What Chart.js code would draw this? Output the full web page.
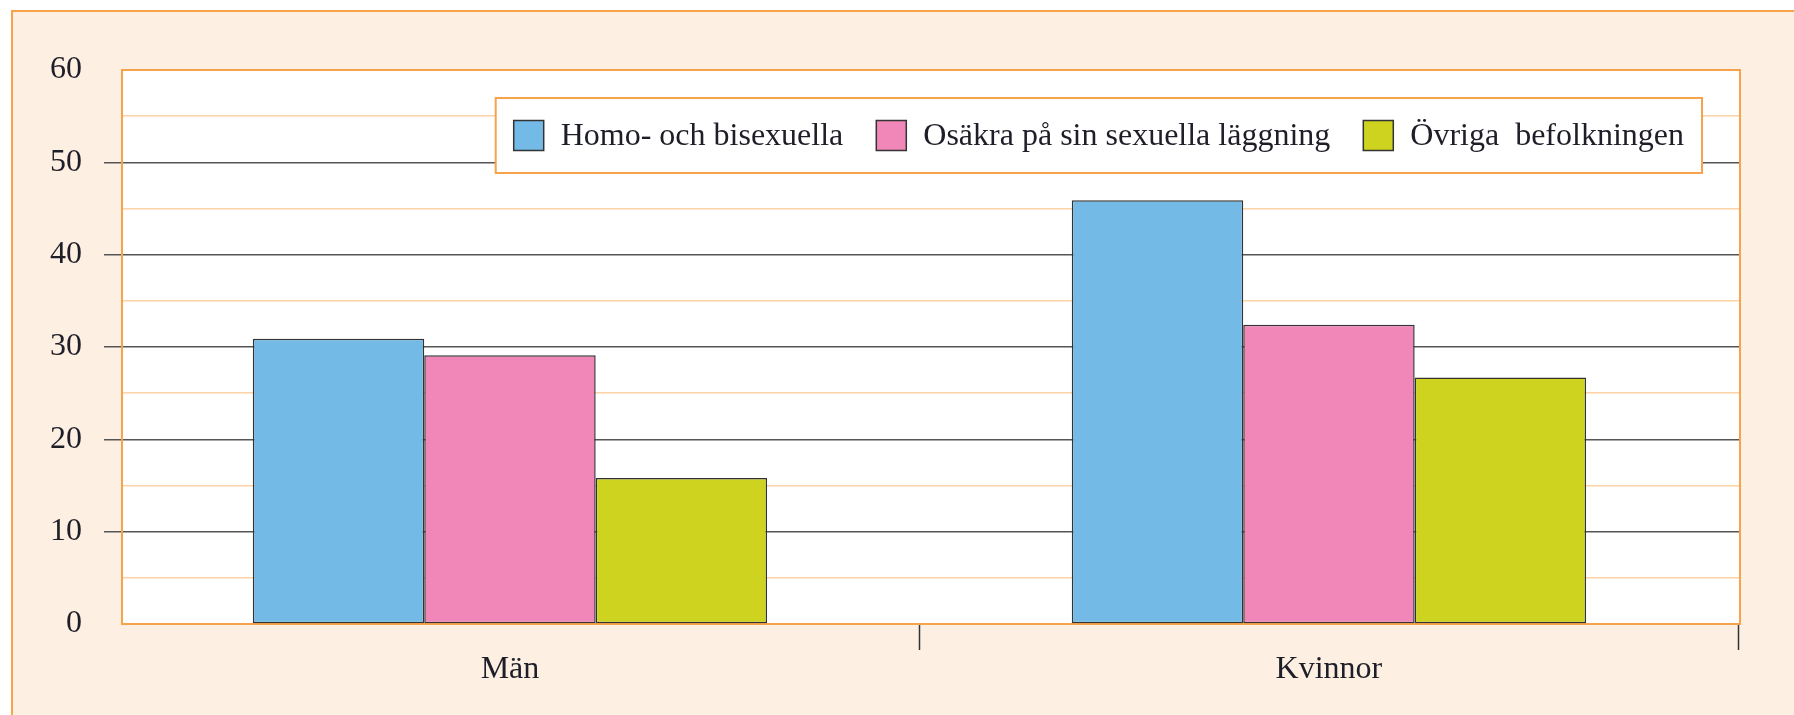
<!DOCTYPE html>
<html>
<head>
<meta charset="utf-8">
<script src="https://cdn.jsdelivr.net/npm/chart.js@4/dist/chart.umd.min.js"></script>
<style>
  html, body { margin: 0; padding: 0; background: #ffffff; }
  #frame { position: absolute; left: 11px; top: 10px; width: 1800px; height: 720px;
           background: #fdefe2; border-left: 2px solid #f7a34b; border-top: 2px solid #f7a34b; box-sizing: border-box; }
  #wrap { position: absolute; left: 0; top: 0; width: 1794px; height: 715px; }
</style>
</head>
<body>
<div id="frame"></div>
<div id="wrap"><canvas id="c" width="1794" height="715"></canvas></div>
<script>
const categories = ['Män', 'Kvinnor'];
const seriesLabels = ['Homo- och bisexuella', 'Osäkra på sin sexuella läggning', 'Övriga  befolkningen'];
const homoBi = [30.9, 45.9];
const osakra = [29.1, 32.4];
const ovriga = [15.8, 26.7];
const seriesColors = ['#73bbe6', '#f087b8', '#cdd31e'];

const ORANGE = '#f7a34b';
const FONT = "'Liberation Serif', 'DejaVu Serif', serif";
// category axis window (in category units): starts slightly right of -0.5
const X_START = -0.4737;
const X_RANGE = 1.9756;

const plotPanel = {
  id: 'plotPanel',
  beforeDraw(chart) {
    const a = chart.chartArea, ctx = chart.ctx;
    ctx.save();
    ctx.fillStyle = '#ffffff';
    ctx.fillRect(a.left, a.top, a.right - a.left, a.bottom - a.top);
    ctx.restore();
  },
  beforeDatasetsDraw(chart) {
    const a = chart.chartArea, ctx = chart.ctx;
    ctx.save();
    ctx.strokeStyle = ORANGE;
    ctx.lineWidth = 2;
    ctx.strokeRect(a.left, a.top, a.right - a.left, a.bottom - a.top);
    ctx.restore();
  },
  afterDatasetsDraw(chart) {
    const a = chart.chartArea, ctx = chart.ctx;
    const ds = chart.data.datasets;
    ctx.save();
    ctx.font = '32px ' + FONT;
    const pad = 18, sw = 30, gapST = 17, gapItem = 33;
    let total = pad * 2;
    const widths = ds.map(d => ctx.measureText(d.label).width);
    widths.forEach((w, i) => { total += sw + gapST + w + (i < ds.length - 1 ? gapItem : 0); });
    const boxH = 75;
    const right = a.right - 38;
    const left = right - total;
    const top = a.top + 28;
    ctx.fillStyle = '#ffffff';
    ctx.fillRect(left, top, total, boxH);
    ctx.strokeStyle = ORANGE;
    ctx.lineWidth = 2;
    ctx.strokeRect(left, top, total, boxH);
    let x = left + pad;
    const cy = top + boxH / 2;
    ds.forEach((d, i) => {
      ctx.fillStyle = d.backgroundColor;
      ctx.fillRect(x, cy - sw / 2, sw, sw);
      ctx.strokeStyle = '#333333';
      ctx.lineWidth = 1.5;
      ctx.strokeRect(x, cy - sw / 2, sw, sw);
      x += sw + gapST;
      ctx.fillStyle = '#1e1e28';
      ctx.textBaseline = 'middle';
      ctx.textAlign = 'left';
      ctx.fillText(d.label, x, cy + 1);
      x += widths[i] + gapItem;
    });
    ctx.restore();
  }
};

new Chart(document.getElementById('c'), {
  type: 'bar',
  data: {
    labels: categories,
    datasets: [
      { label: seriesLabels[0], data: homoBi, backgroundColor: seriesColors[0] },
      { label: seriesLabels[1], data: osakra, backgroundColor: seriesColors[1] },
      { label: seriesLabels[2], data: ovriga, backgroundColor: seriesColors[2] }
    ].map(d => Object.assign(d, { borderColor: '#333333', borderWidth: 1.5, borderSkipped: false,
                                  barPercentage: 1.0, categoryPercentage: 0.628 }))
  },
  options: {
    responsive: false,
    animation: false,
    devicePixelRatio: 1,
    layout: { padding: { left: 0, top: 70, right: 54, bottom: 0 } },
    plugins: { legend: { display: false }, tooltip: { enabled: false } },
    scales: {
      x: {
        offset: true,
        afterFit(s) { s.height = 91; },
        afterBuildTicks(s) { s._startValue = X_START; s._valueRange = X_RANGE; },
        border: { display: true, color: ORANGE, width: 2 },
        grid: {
          offset: true,
          drawOnChartArea: false,
          drawTicks: true,
          tickLength: 26,
          tickWidth: 1.5,
          tickColor: (ctx) => ctx.index === 0 ? 'rgba(0,0,0,0)' : '#333333'
        },
        ticks: { color: '#1e1e28', font: { family: FONT, size: 32 }, padding: 0 }
      },
      y: {
        min: 0, max: 60,
        afterFit(s) { s.width = 122; },
        border: { display: true, color: ORANGE, width: 2 },
        grid: {
          drawTicks: true,
          tickLength: 18,
          lineWidth: 1.5,
          tickWidth: 1.5,
          color: (ctx) => {
            const v = ctx.tick ? ctx.tick.value : 0;
            if (v === 0 || v === 60) return ORANGE;
            return v % 10 === 0 ? '#555555' : '#fdd2a5';
          },
          tickColor: (ctx) => {
            const v = ctx.tick ? ctx.tick.value : 0;
            return (v % 10 === 0 && v !== 0 && v !== 60) ? '#555555' : 'rgba(0,0,0,0)';
          }
        },
        ticks: {
          stepSize: 5,
          padding: 22,
          color: '#1e1e28',
          font: { family: FONT, size: 32 },
          callback: (v) => v % 10 === 0 ? String(v) : ''
        }
      }
    }
  },
  plugins: [plotPanel]
});
</script>
</body>
</html>
